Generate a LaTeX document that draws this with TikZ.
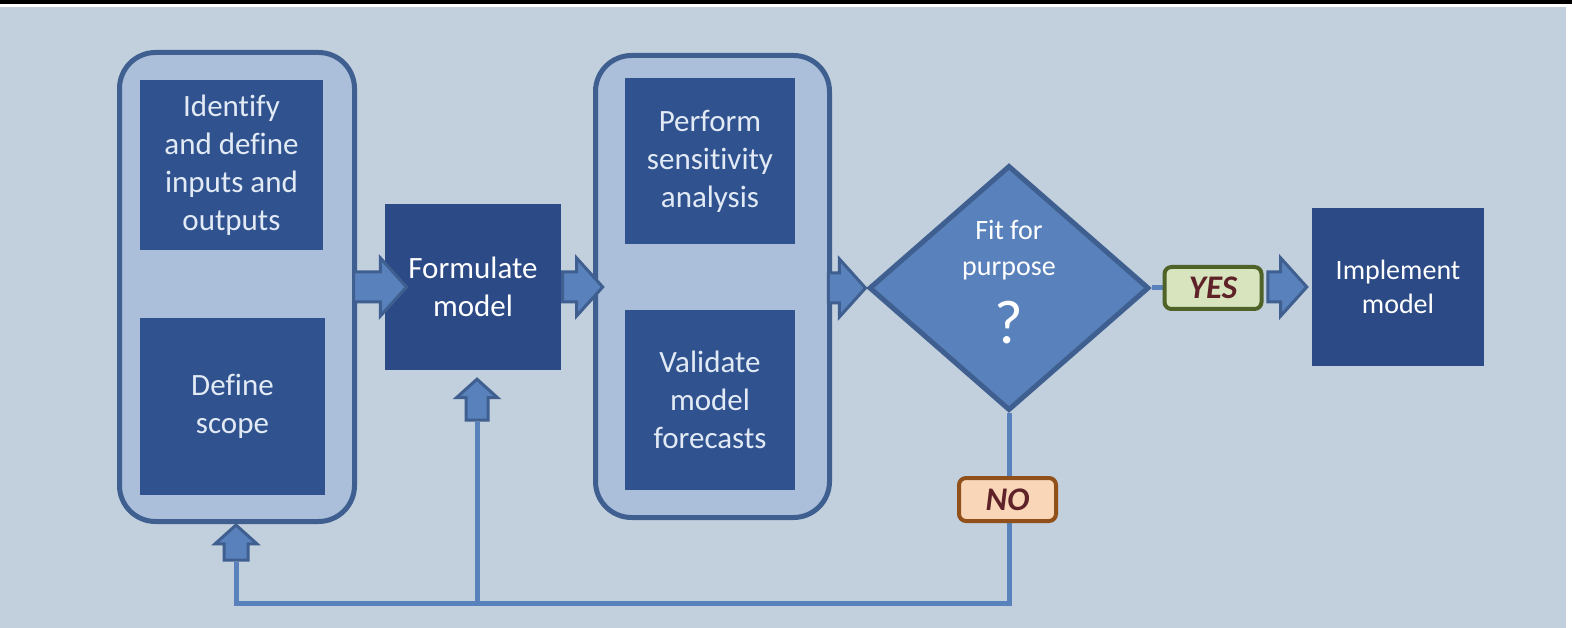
\documentclass[tikz,border=0pt]{standalone}
\usepackage{fontspec}
\setmainfont[Ligatures=CommonOff]{Carlito}
\usetikzlibrary{shapes.geometric,shapes.arrows}
\definecolor{bgblue}{HTML}{C2CFDD}
\definecolor{edgeblue}{HTML}{3E5F8F}
\definecolor{groupblue}{HTML}{ABBFDA}
\definecolor{taskblue}{HTML}{30538F}
\definecolor{keyblue}{HTML}{2B4A86}
\definecolor{arrowblue}{HTML}{5981BB}
\definecolor{tasktext}{HTML}{E2EAF5}
\definecolor{yesfill}{HTML}{D8E4BD}
\definecolor{yesedge}{HTML}{4F6228}
\definecolor{nofill}{HTML}{F9D6B8}
\definecolor{noedge}{HTML}{91501A}
\definecolor{answertext}{HTML}{5E2228}

\tikzset{
  group/.style={draw=edgeblue, fill=groupblue, line width=5pt, rounded corners=36pt},
  task/.style={fill=taskblue, text=tasktext, align=center, inner sep=0pt,
    font=\fontsize{31}{38}\selectfont},
  keytask/.style={task, fill=keyblue, text=white},
  bigarrow/.style={single arrow, draw=edgeblue, fill=arrowblue, line width=3pt,
    inner xsep=0pt, inner ysep=13.5pt, single arrow head extend=14pt,
    single arrow tip angle=96},
  uparrow/.style={bigarrow, rotate=90, inner ysep=10.5pt, single arrow head extend=9pt},
  answer/.style={rounded corners=7pt, line width=4pt, text=answertext,
    minimum width=97pt, minimum height=42pt, inner sep=0pt,
    font=\bfseries\itshape\fontsize{33}{33}\selectfont},
  loopline/.style={draw=arrowblue, line width=5pt},
}

\begin{document}
\begin{tikzpicture}[x=1pt, y=-1pt]
    \useasboundingbox (0,0) rectangle (1572,628);
    % Background
    \fill[bgblue] (0,7) rectangle (1566,628);
    \fill[black] (0,0) rectangle (1572,4);

    % Groups of steps
    \node[group, minimum width=235pt, minimum height=469pt] (define) at (237,287) {};
    \node[task, minimum width=183pt, minimum height=170pt] (inout) at (231.5,165)
        {Identify\\and define\\inputs and\\outputs};
    \node[task, minimum width=185pt, minimum height=177pt] (scope) at (232.5,406.5)
        {Define\\scope};
    \node[group, minimum width=234pt, minimum height=462pt] (check) at (712.5,286.5) {};
    \node[task, minimum width=170pt, minimum height=166pt] (sens) at (710,161)
        {Perform\\sensitivity\\analysis};
    \node[task, minimum width=170pt, minimum height=180pt] (valid) at (710,400)
        {Validate\\model\\forecasts};

    % Main steps
    \node[keytask, minimum width=176pt, minimum height=166pt] (formulate) at (473,287)
        {Formulate\\model};
    \node[keytask, minimum width=172pt, minimum height=158pt, font=\fontsize{28}{34}\selectfont]
        (implement) at (1398,287) {Implement\\model};

    % Decision
    \node[diamond, draw=edgeblue, fill=arrowblue, line width=5pt, inner sep=0pt,
        minimum width=280pt, minimum height=245pt] (fit) at (1009,288) {};
    \node[text=white, align=center, font=\fontsize{28}{36}\selectfont] (fittext) at (1009,250)
        {Fit for\\purpose};
    \node[text=white, inner sep=0pt, font=\fontsize{62}{62}\selectfont] (qmark) at (1009,323) {?};

    % Loop back
    \coordinate (base) at (0,603);
    \node[uparrow, anchor=tip, minimum height=35pt] (upscope) at ([xshift=-1pt,yshift=1pt]define.south) {};
    \node[uparrow, anchor=tip, minimum height=41pt, inner ysep=9.5pt, single arrow head extend=9.5pt]
        (upform) at ([xshift=4pt,yshift=-7pt]formulate.south) {};
    \draw[loopline] (fit.south) -- (fit.south |- base) -| (upscope.tail);
    \draw[loopline] (upform.tail) -- (upform.tail |- base);
    \draw[loopline] (fit.east) -- ++(12,0) coordinate (yesin);

    % Answers
    \node[answer, draw=yesedge, fill=yesfill, anchor=west] (yes) at ([xshift=-1pt]yesin) {YES};
    \node[answer, draw=noedge, fill=nofill, minimum height=43pt] (no) at (1007.5,499.5) {NO};

    % Block arrows
    \node[bigarrow, anchor=tail, minimum height=53pt] (a1) at ([xshift=-5pt]define.east) {};
    \node[bigarrow, anchor=tail, minimum height=40pt] (a2) at (formulate.east) {};
    \node[bigarrow, anchor=tip, minimum height=37pt] (a3) at ([xshift=1pt]fit.west) {};
    \node[bigarrow, anchor=tip, minimum height=39pt] (a4) at ([xshift=-3pt]implement.west) {};
\end{tikzpicture}
\end{document}
